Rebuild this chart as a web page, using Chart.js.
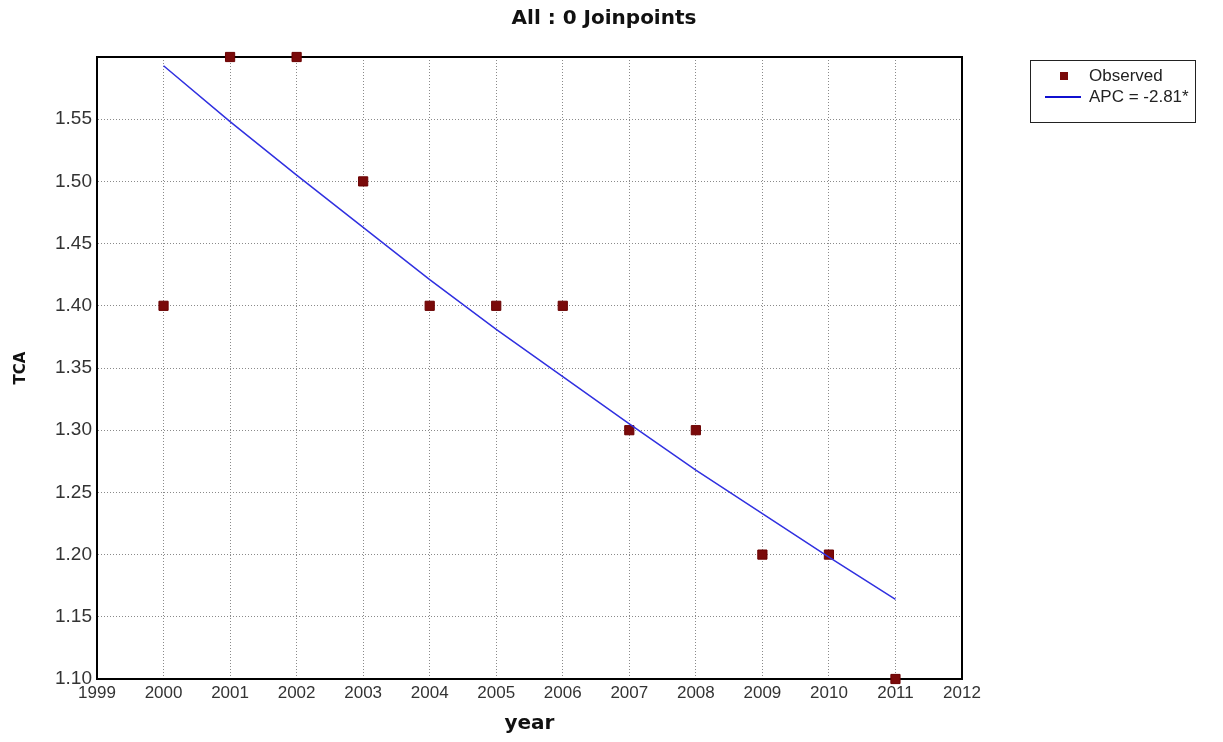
<!DOCTYPE html>
<html>
<head>
<meta charset="utf-8">
<script src="https://cdn.jsdelivr.net/npm/chart.js@4.4.0/dist/chart.umd.min.js"></script>
<style>
  body { margin: 0; background: #fff; }
  #wrap { position: relative; width: 1223px; height: 742px; }
  #title { position: absolute; left: 404px; width: 400px; top: 5px; text-align: center;
           font: bold 20px "DejaVu Sans", sans-serif; color: #111; }
  #legend { position: absolute; left: 1030px; top: 60px; width: 166px; height: 63px;
            border: 1px solid #222; box-sizing: border-box; font: 17px "Liberation Sans", Arial, sans-serif; color: #222; }
  .item { position: absolute; left: 0; height: 20px; line-height: 20px; }
  .mark { position: absolute; display: block; }
  .txt { position: absolute; left: 58px; white-space: nowrap; }
</style>
</head>
<body>
<div id="wrap">
  <canvas id="chart" width="1223" height="742"></canvas>
  <div id="title">All : 0 Joinpoints</div>
  <div id="legend">
    <div class="item" style="top:5px"><span class="mark" style="left:29px;top:6px;width:8px;height:8px;background:#7a0a0a"></span><span class="txt">Observed</span></div>
    <div class="item" style="top:26px"><span class="mark" style="left:14px;top:9px;width:36px;height:2px;background:#1010d0"></span><span class="txt">APC = -2.81*</span></div>
  </div>
</div>
<script>
// 데이터
const years = [2000, 2001, 2002, 2003, 2004, 2005, 2006, 2007, 2008, 2009, 2010, 2011];
const observed = [1.40, 1.60, 1.60, 1.50, 1.40, 1.40, 1.40, 1.30, 1.30, 1.20, 1.20, 1.10];
const fitted = [1.593, 1.548, 1.505, 1.463, 1.421, 1.381, 1.343, 1.305, 1.268, 1.233, 1.198, 1.164];
const yMin = 1.10, yMax = 1.60, yStep = 0.05;
const xMin = 1999, xMax = 2012;

// 테두리 그리기
const frame = {
    id: 'frame',
    beforeDatasetsDraw(chart) {
        const a = chart.chartArea, ctx = chart.ctx;
        ctx.save();
        ctx.setLineDash([]);
        ctx.strokeStyle = '#000';
        ctx.lineWidth = 2;
        ctx.strokeRect(a.left, a.top, a.right - a.left, a.bottom - a.top);
        ctx.restore();
    }
};

const gridStyle = {
    color: '#8a8a8a',
    lineWidth: 1,
    drawTicks: false
};

new Chart(document.getElementById('chart'), {
    type: 'scatter',
    data: {
        datasets: [{
            label: 'APC = -2.81*',
            data: years.map((x, i) => ({ x: x, y: fitted[i] })),
            showLine: true,
            borderColor: '#3030e0',
            borderWidth: 1.5,
            pointRadius: 0,
            order: 0
        }, {
            label: 'Observed',
            data: years.map((x, i) => ({ x: x, y: observed[i] })),
            pointStyle: 'rect',
            pointRadius: 6.5,
            backgroundColor: '#7a0a0a',
            borderColor: '#6a0000',
            borderWidth: 1,
            clip: false,
            order: 1
        }]
    },
    options: {
        responsive: false,
        animation: false,
        layout: { padding: { left: 0, top: 57, right: 261, bottom: 0 } },
        plugins: { legend: { display: false }, tooltip: { enabled: false } },
        scales: {
            x: {
                type: 'linear', min: xMin, max: xMax,
                grid: gridStyle,
                border: { display: true, color: '#000', width: 2, dash: [1, 2] },
                afterFit(s) { s.height = 63; },
                ticks: {
                    stepSize: 1, padding: 4, color: '#333',
                    font: { family: 'Liberation Sans', size: 17 },
                    maxRotation: 0,
                    callback: v => String(v)
                },
                title: {
                    display: true, text: 'year', color: '#111',
                    font: { family: 'DejaVu Sans', size: 20, weight: 'bold' },
                    padding: { top: 0, bottom: 6 }
                }
            },
            y: {
                type: 'linear', min: yMin, max: yMax,
                grid: gridStyle,
                border: { display: true, color: '#000', width: 2, dash: [1, 2] },
                afterFit(s) { s.width = 97; },
                ticks: {
                    stepSize: yStep, padding: 5, color: '#333',
                    font: { family: 'Liberation Sans', size: 19 },
                    callback: v => (v > yMax - 0.001 ? '' : v.toFixed(2))
                },
                title: {
                    display: true, text: 'TCA', color: '#111',
                    font: { family: 'DejaVu Sans', size: 15, weight: 'bold' },
                    padding: { top: 12, bottom: 0 }
                }
            }
        }
    },
    plugins: [frame]
});
</script>
</body>
</html>
